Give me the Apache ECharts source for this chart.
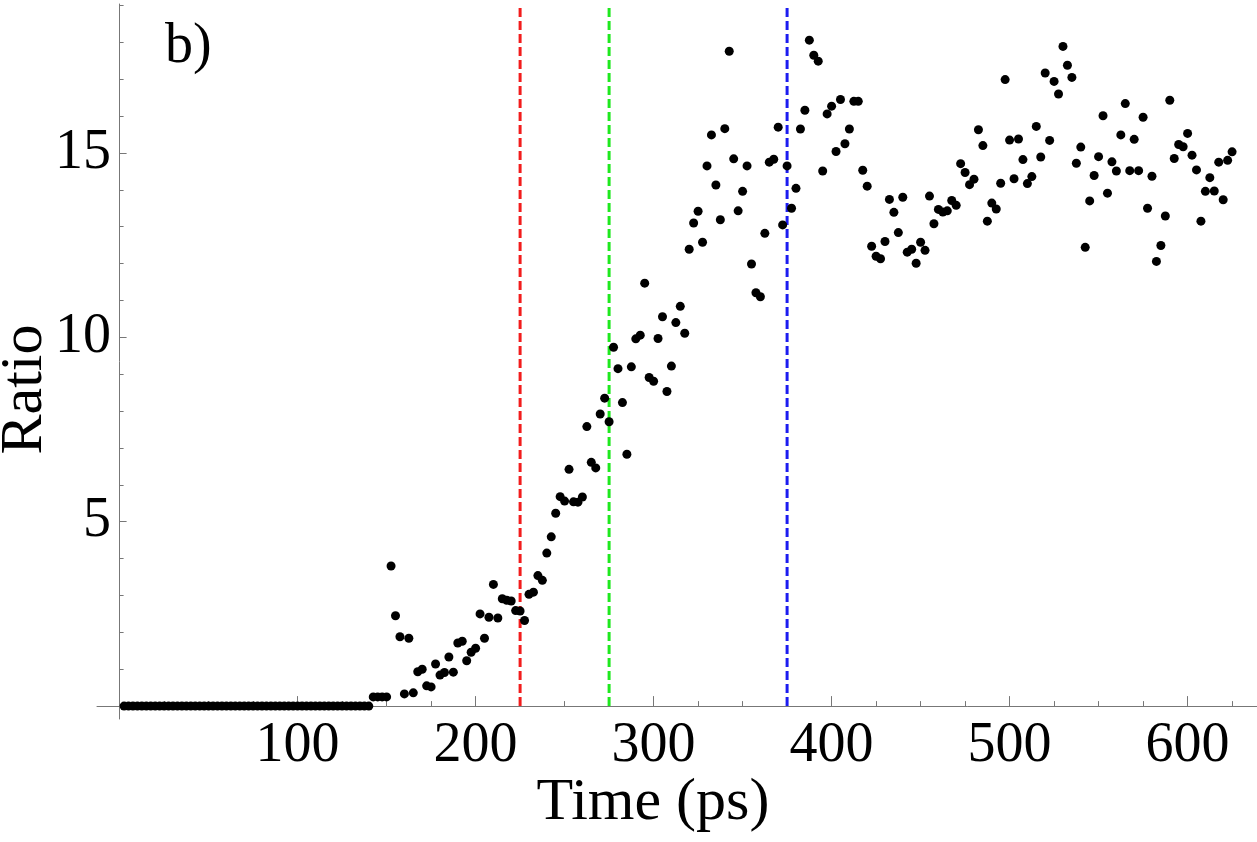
<!DOCTYPE html>
<html>
<head>
<meta charset="utf-8">
<script src="https://cdn.jsdelivr.net/npm/echarts@6/dist/echarts.min.js"></script>
<style>
html, body { margin: 0; padding: 0; background: #fff; }
#chart { width: 1257px; height: 842px; }
</style>
</head>
<body>
<div id="chart"></div>
<script>
// sampling step of the simulation (ps), first sample at t = step
var step = 2.5;

var ratios = [
    0, 0, 0, 0, 0, 0, 0, 0, 0, 0, 0, 0, 0, 0, 0, 0, 0, 0, 0, 0,
    0, 0, 0, 0, 0, 0, 0, 0, 0, 0, 0, 0, 0, 0, 0, 0, 0, 0, 0, 0,
    0, 0, 0, 0, 0, 0, 0, 0, 0, 0, 0, 0, 0, 0, 0, 0,
    0.25, 0.25, 0.25, 0.25, 3.80, 2.45, 1.88, 0.33, 1.84, 0.36,
    0.93, 1.00, 0.55, 0.52, 1.14, 0.84, 0.91, 1.33, 0.92, 1.71,
    1.76, 1.23, 1.46, 1.57, 2.50, 1.84, 2.41, 3.30, 2.39, 2.91,
    2.87, 2.85, 2.59, 2.58, 2.32, 3.03, 3.09, 3.54, 3.41, 4.15,
    4.59, 5.23, 5.68, 5.56, 6.42, 5.54, 5.53, 5.67, 7.58, 6.61,
    6.46, 7.92, 8.35, 7.71, 9.73, 9.15, 8.23, 6.83, 9.20, 9.96,
    10.06, 11.47, 8.91, 8.81, 9.97, 10.56, 8.53, 9.22, 10.40, 10.84,
    10.11, 12.39, 13.10, 13.42, 12.58, 14.65, 15.49, 14.13, 13.19, 15.66,
    17.76, 14.84, 13.43, 13.96, 14.65, 11.99, 11.21, 11.10, 12.82, 14.75,
    14.83, 15.70, 13.05, 14.65, 13.50, 14.04, 15.65, 16.16, 18.06, 17.65,
    17.49, 14.51, 16.06, 16.27, 15.04, 16.45, 15.25, 15.65, 16.40, 16.40,
    14.53, 14.10, 12.47, 12.20, 12.13, 12.60, 13.74, 13.39, 12.84, 13.80,
    12.31, 12.39, 12.01, 12.58, 12.36, 13.83, 13.08, 13.47, 13.40, 13.43,
    13.71, 13.58, 14.71, 14.47, 14.14, 14.29, 15.63, 15.20, 13.15, 13.64,
    13.48, 14.18, 16.99, 15.35, 14.30, 15.38, 14.82, 14.17, 14.36, 15.72,
    14.89, 17.17, 15.34, 16.94, 16.60, 17.89, 17.38, 17.05, 14.72, 15.16,
    12.44, 13.70, 14.39, 14.90, 16.01, 13.91, 14.76, 14.51, 15.49, 16.34,
    14.52, 15.37, 14.52, 15.97, 13.50, 14.37, 12.06, 12.49, 13.29, 16.43,
    14.85, 15.23, 15.17, 15.53, 14.94, 14.54, 13.15, 13.96, 14.33, 13.97,
    14.75, 13.73, 14.80, 15.03
];

var xTicks = [100, 200, 300, 400, 500, 600];
var xMinorTicks = [25, 50, 75, 125, 150, 175, 225, 250, 275, 325, 350, 375,
    425, 450, 475, 525, 550, 575, 625];
var yTicks = [5, 10, 15];
var yMinorTicks = [1, 2, 3, 4, 6, 7, 8, 9, 11, 12, 13, 14, 16, 17, 18, 19];

var markerTimes = [225, 275, 375];
var markerColors = ['#f21c1c', '#1ee81e', '#1c1cf0'];

var xMin = -12.7, xMax = 639;
var yMin = -0.35, yMax = 19.04;

var font = "'Liberation Serif', 'Times New Roman', serif";
var axisColor = '#777';

var myChart = echarts.init(document.getElementById('chart'));

var points = ratios.map(function (r, i) {
    return [step * (i + 1), r];
});

var markerSeries = markerTimes.map(function (t, i) {
    return {
        type: 'line',
        xAxisIndex: 0,
        yAxisIndex: 0,
        data: [[t, 0], [t, yMax]],
        symbol: 'none',
        silent: true,
        z: 1,
        lineStyle: {
            color: markerColors[i],
            width: 3,
            type: [9, 4]
        }
    };
});

var option = {
    animation: false,
    backgroundColor: '#fff',
    title: {
        text: 'b)',
        left: 160,
        top: 14,
        textStyle: {
            fontFamily: font,
            fontWeight: 'normal',
            fontSize: 56,
            color: '#000'
        }
    },
    grid: {
        left: 97,
        right: 0,
        top: 4,
        bottom: 123,
        outerBoundsMode: 'none'
    },
    xAxis: [
        {
            type: 'value',
            min: xMin,
            max: xMax,
            position: 'bottom',
            name: 'Time (ps)',
            nameLocation: 'middle',
            nameGap: 54,
            nameMoveOverlap: false,
            nameTextStyle: {
                fontFamily: font,
                fontSize: 60,
                color: '#000',
                padding: [0, 48, 0, 0]
            },
            axisLine: { onZero: true, lineStyle: { color: axisColor, width: 1 } },
            axisTick: {
                inside: true,
                length: 10,
                customValues: xTicks,
                lineStyle: { color: axisColor }
            },
            axisLabel: {
                customValues: xTicks,
                margin: -1,
                fontFamily: font,
                fontSize: 56,
                color: '#000'
            },
            splitLine: { show: false }
        },
        {
            type: 'value',
            min: xMin,
            max: xMax,
            position: 'bottom',
            axisLine: { onZero: true, show: false },
            axisTick: {
                inside: true,
                length: 5,
                customValues: xMinorTicks,
                lineStyle: { color: axisColor }
            },
            axisLabel: { show: false },
            splitLine: { show: false }
        }
    ],
    yAxis: [
        {
            type: 'value',
            min: yMin,
            max: yMax,
            position: 'left',
            name: 'Ratio',
            nameLocation: 'middle',
            nameGap: 42,
            nameMoveOverlap: false,
            nameTextStyle: {
                fontFamily: font,
                fontSize: 60,
                color: '#000',
                padding: [0, 56, 0, 0]
            },
            axisLine: { onZero: true, lineStyle: { color: axisColor, width: 1 } },
            axisTick: {
                inside: true,
                length: 7,
                customValues: yTicks,
                lineStyle: { color: axisColor }
            },
            axisLabel: {
                customValues: yTicks,
                margin: -14,
                fontFamily: font,
                fontSize: 56,
                color: '#000'
            },
            splitLine: { show: false }
        },
        {
            type: 'value',
            min: yMin,
            max: yMax,
            position: 'left',
            axisLine: { onZero: true, show: false },
            axisTick: {
                inside: true,
                length: 4,
                customValues: yMinorTicks,
                lineStyle: { color: axisColor }
            },
            axisLabel: { show: false },
            splitLine: { show: false }
        }
    ],
    series: markerSeries.concat([
        {
            name: 'Ratio',
            type: 'scatter',
            xAxisIndex: 0,
            yAxisIndex: 0,
            data: points,
            symbol: 'circle',
            symbolSize: 9,
            z: 3,
            itemStyle: { color: '#000', opacity: 1 }
        }
    ])
};

myChart.setOption(option);
</script>
</body>
</html>
